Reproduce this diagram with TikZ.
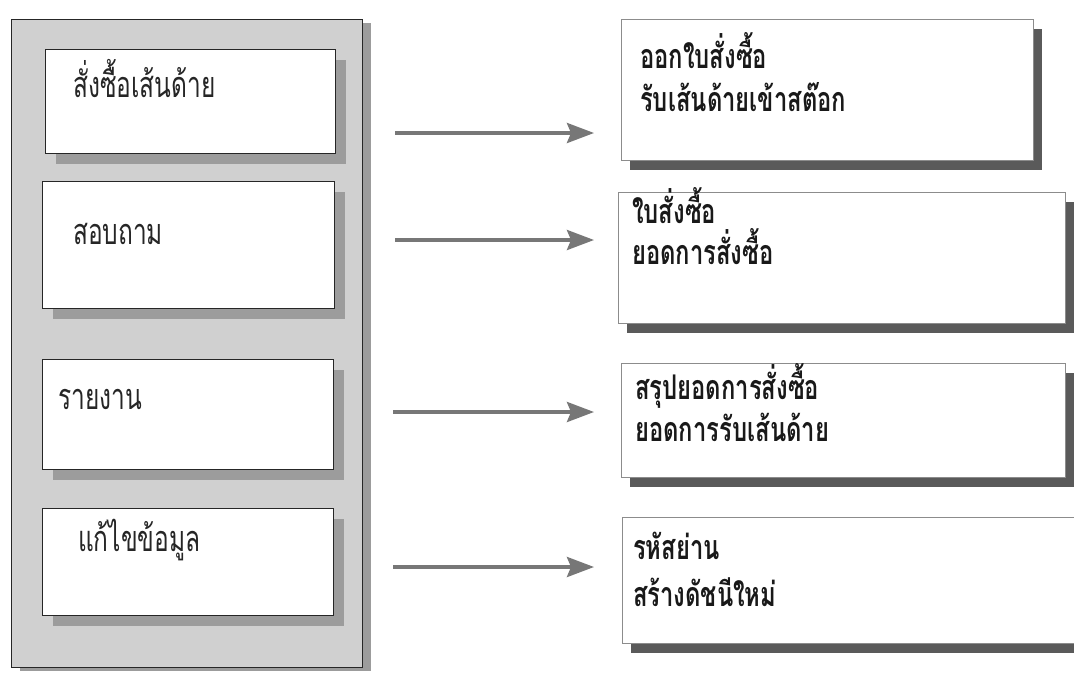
\documentclass[tikz,border=0pt]{standalone}
\usepackage{fontspec}
\newfontfamily\thaiL[Script=Thai,FakeStretch=0.68]{Loma}
\newfontfamily\thaiR[Script=Thai,FakeStretch=0.70]{Loma}
\usetikzlibrary{arrows.meta,shadows}
\definecolor{panelgray}{HTML}{D0D0D0}
\definecolor{lshadow}{HTML}{9C9C9C}
\definecolor{rshadow}{HTML}{5A5A5A}
\definecolor{arrowgray}{HTML}{777777}
\tikzset{
  panel/.style={draw=black!85, line width=1.2pt, fill=panelgray, anchor=north west, inner sep=0pt,
    drop shadow={shadow xshift=8pt, shadow yshift=-3pt, fill=lshadow, opacity=1}},
  lbox/.style={draw=black!85, line width=1.1pt, fill=white, anchor=north west, inner sep=0pt,
    drop shadow={shadow xshift=10pt, shadow yshift=-10pt, fill=lshadow, opacity=1}},
  rbox/.style={draw=black!45, line width=0.7pt, fill=white, anchor=north west, inner sep=0pt,
    drop shadow={shadow xshift=9pt, shadow yshift=-10pt, fill=rshadow, opacity=1}},
  ltext/.style={anchor=base west, inner sep=0pt, font=\thaiL\fontsize{36}{36}\selectfont, text=black!85},
  rtext/.style={anchor=base west, inner sep=0pt, font=\thaiR\bfseries\fontsize{34}{34}\selectfont, text=black!90},
  flow/.style={draw=arrowgray, line width=3.6pt, -{Stealth[length=27pt,width=20pt,inset=4pt]}},
}
\begin{document}
\begin{tikzpicture}[x=1pt,y=-1pt]
\useasboundingbox (0,0) rectangle (1074,675);
\fill[white] (0,0) rectangle (1074,675);

% left panel
\node[panel, minimum width=351pt, minimum height=648pt] (P) at (11,19) {};
\node[lbox, minimum width=290pt, minimum height=104pt] (L1) at (45,49) {};
\node[lbox, minimum width=292pt, minimum height=127pt] (L2) at (42,181) {};
\node[lbox, minimum width=291pt, minimum height=110pt] (L3) at (42,359) {};
\node[lbox, minimum width=291pt, minimum height=107pt] (L4) at (42,508) {};

\node[ltext] (t1) at (73,97) {สั่งซื้อเส้นด้าย};
\node[ltext] (t2) at (73,244) {สอบถาม};
\node[ltext] (t3) at (58,409) {รายงาน};
\node[ltext] (t4) at (78,551) {แก้ไขข้อมูล};

% right boxes
\node[rbox, minimum width=412pt, minimum height=141pt] (R1) at (621,19) {};
\node[rbox, minimum width=447pt, minimum height=131pt] (R2) at (618,192) {};
\node[rbox, minimum width=444pt, minimum height=114pt] (R3) at (621,363) {};
\node[rbox, minimum width=452pt, minimum height=126pt] (R4) at (622,517) {};

\node[rtext] (r1a) at (640,68) {ออกใบสั่งซื้อ};
\node[rtext] (r1b) at (640,111) {รับเส้นด้ายเข้าสต๊อก};
\node[rtext] (r2a) at (632,223) {ใบสั่งซื้อ};
\node[rtext] (r2b) at (632,264) {ยอดการสั่งซื้อ};
\node[rtext] (r3a) at (635,399) {สรุปยอดการสั่งซื้อ};
\node[rtext] (r3b) at (635,441) {ยอดการรับเส้นด้าย};
\node[rtext] (r4a) at (633,559) {รหัสย่าน};
\node[rtext] (r4b) at (633,606) {สร้างดัชนีใหม่};

% arrows
\coordinate (a1s) at (395,133); \coordinate (a1e) at (594,133);
\coordinate (a2s) at (395,240); \coordinate (a2e) at (594,240);
\coordinate (a3s) at (393,412); \coordinate (a3e) at (594,412);
\coordinate (a4s) at (393,567); \coordinate (a4e) at (594,567);
\draw[flow] (a1s) -- (a1e);
\draw[flow] (a2s) -- (a2e);
\draw[flow] (a3s) -- (a3e);
\draw[flow] (a4s) -- (a4e);
\end{tikzpicture}
\end{document}
